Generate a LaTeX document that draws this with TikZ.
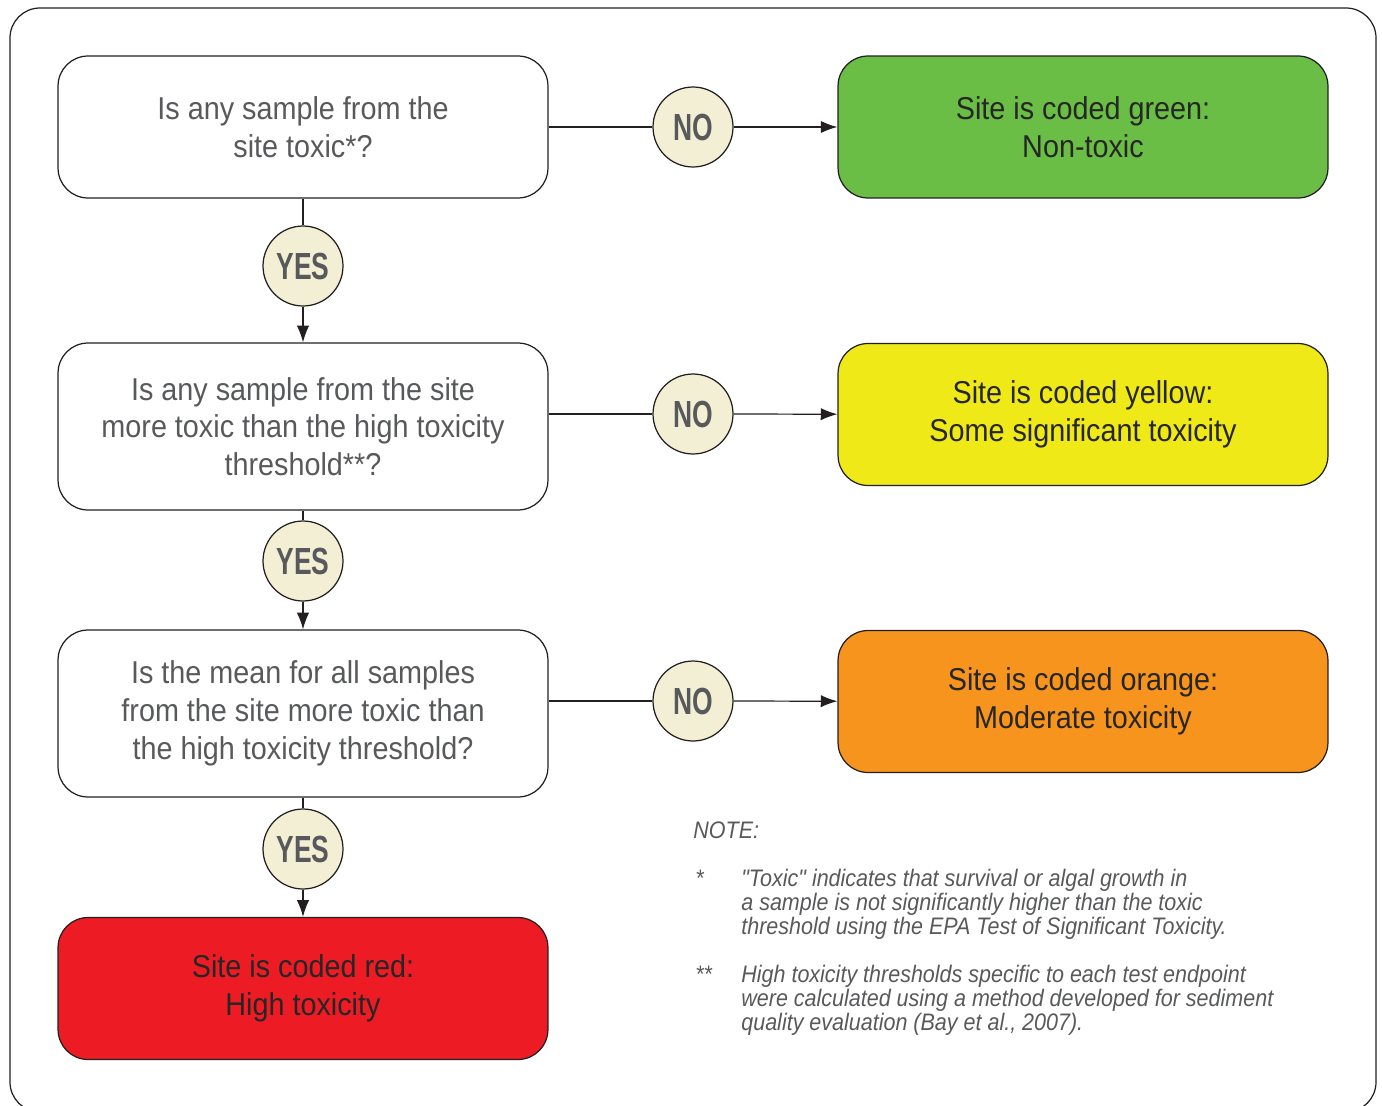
\documentclass[tikz,border=0pt]{standalone}
\usepackage{fontspec}
\setmainfont{Liberation Sans}
\newfontfamily\condfont[FakeStretch=0.91]{Liberation Sans}
\newfontfamily\answerfont[FakeStretch=0.7]{Liberation Sans}
\newfontfamily\notefont[FakeStretch=0.9]{Liberation Sans}
\usetikzlibrary{calc}
\usetikzlibrary{arrows.meta}
\usetikzlibrary{positioning}
\definecolor{boxgreen}{HTML}{6ABD45}
\definecolor{boxyellow}{HTML}{F0E918}
\definecolor{boxorange}{HTML}{F7941D}
\definecolor{boxred}{HTML}{ED1C24}
\definecolor{answerfill}{HTML}{F3EFD5}
\definecolor{textgray}{HTML}{58595B}
\definecolor{linegray}{HTML}{231F20}

\begin{document}
\begin{tikzpicture}[x=0.02cm,y=-0.02cm,>={Latex[length=9.5pt,width=7pt]}]
  \tikzstyle{question}=[draw=linegray,line width=0.7pt,rounded corners=0.6cm,minimum width=9.8cm,minimum height=3.34cm,align=center,text=textgray,font=\condfont\fontsize{18}{21.5}\selectfont]
  \tikzstyle{result}=[question,minimum height=2.84cm,text=black!85]
  \tikzstyle{answer}=[circle,draw=linegray,line width=0.7pt,fill=answerfill,minimum size=1.6cm,inner sep=0pt,text=textgray,font=\answerfont\bfseries\fontsize{21.5}{21.5}\selectfont]
  \tikzstyle{link}=[line width=0.7pt,draw=linegray]
  \tikzstyle{note}=[inner sep=0pt,align=left,text=textgray,font=\notefont\itshape\fontsize{13.6}{13.6}\selectfont]

  \useasboundingbox (0,0) rectangle (1382,1105);
  \begin{scope}
    \clip (0,0) rectangle (1382,1105);
    \draw[linegray,line width=0.7pt,rounded corners=0.6cm] (10,8) rectangle (1376,1112);
  \end{scope}

  % questions on the left
  \node[question,minimum height=2.84cm] (q1) at (303,127) {Is any sample from the\\site toxic*?};
  \node[question] (q2) at (303,426.5) {Is any sample from the site\\more toxic than the high toxicity\\threshold**?};
  \node[question] (q3) at (303,713.5) {Is the mean for all samples\\from the site more toxic than\\the high toxicity threshold?};
  \node[result,fill=boxred] (red) at (303,988.5) {Site is coded red:\\High toxicity};

  % results on the right
  \node[result,fill=boxgreen] (green) at (1083,127) {Site is coded green:\\Non-toxic};
  \node[result,fill=boxyellow] (yellow) at (1083,414.5) {Site is coded yellow:\\Some significant toxicity};
  \node[result,fill=boxorange] (orange) at (1083,701.5) {Site is coded orange:\\Moderate toxicity};

  % answers
  \foreach \y/\name in {127/no1, 414/no2, 701/no3}
    \node[answer] (\name) at (693,\y) {NO};
  \foreach \y/\name in {266/yes1, 561/yes2, 849/yes3}
    \node[answer] (\name) at (303,\y) {YES};

  \draw[link] (q1.east) -- (no1);
  \draw[link,->] (no1) -- (green);
  \draw[link] (no2 -| q2.east) -- (no2);
  \draw[link,->] (no2) -- (yellow);
  \draw[link] (no3 -| q3.east) -- (no3);
  \draw[link,->] (no3) -- (orange);

  \draw[link] (q1.south) -- (yes1);
  \draw[link,->] (yes1) -- (q2.north);
  \draw[link] (q2.south) -- (yes2);
  \draw[link,->] (yes2) -- (q3.north);
  \draw[link] (q3.south) -- (yes3);
  \draw[link,->] (yes3) -- (red.north);

  % note
  \node[note,anchor=north west] (notehead) at (693,821) {NOTE:};
  \node[note,anchor=north west] (star1) at (695,870) {*};
  \node[note,anchor=north west] (note1) at (741,869) {"Toxic" indicates that survival or algal growth in\\a sample is not significantly higher than the toxic\\threshold using the EPA Test of Significant Toxicity.};
  \node[note,anchor=north west] (star2) at (695,966) {**};
  \node[note,anchor=north west] (note2) at (741,965) {High toxicity thresholds specific to each test endpoint\\were calculated using a method developed for sediment\\quality evaluation (Bay et al., 2007).};
\end{tikzpicture}
\end{document}
